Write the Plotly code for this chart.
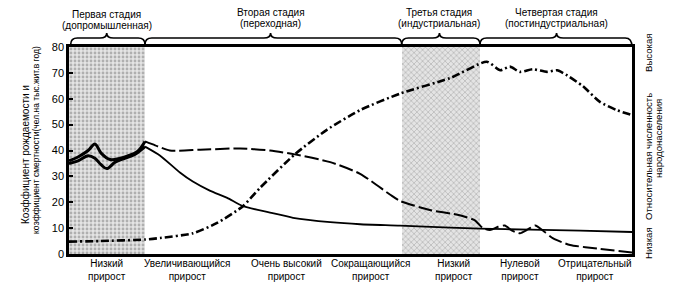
import plotly.graph_objects as go

# ---- data (x in relative time units 0..100) ----
stage_bounds = [0, 13.5, 59.1, 73.0, 100]
stage_title_1 = ["Первая стадия", "Вторая стадия", "Третья стадия", "Четвертая стадия"]
stage_title_2 = ["(допромышленная)", "(переходная)", "(индустриальная)", "(постиндустриальная)"]
stage_peaks = [6.7, 35.8, 65.8, 86.6]

growth_labels = ["Низкий<br>прирост", "Увеличивающийся<br>прирост", "Очень высокий<br>прирост",
                 "Сокращающийся<br>прирост", "Низкий<br>прирост", "Нулевой<br>прирост",
                 "Отрицательный<br>прирост"]
growth_x = [6.7, 21.0, 38.7, 53.5, 68.4, 80.1, 93.5]

y_ticks = [0, 10, 20, 30, 40, 50, 60, 70, 80]

# stage 1 (thick, fluctuating)
birth1_x = [0, 1.6, 3.4, 4.6, 5.7, 7.3, 9.1, 10.5, 12.1, 13.5]
birth1_y = [36, 37.5, 40, 42.5, 39, 36.5, 37, 38, 39.5, 43.5]
death1_x = [0, 1.6, 3.4, 4.6, 5.7, 6.7, 8.2, 9.9, 11.7, 13.5]
death1_y = [35, 36, 38, 37, 34.5, 33, 35.5, 37, 38.5, 41.5]

# birth rate (dashed)
birth_x = [13.5, 15.3, 17.9, 23.3, 30.4, 35.7, 40.1, 46.4, 51.7, 57.0, 58.8, 64.1, 69.4, 72.1,
           73.5, 74.8, 76.2, 77.4, 78.7, 80.1, 81.5, 82.8, 84.5, 86.0, 89.0, 94.3, 100]
birth_y = [43.5, 42, 40, 40.3, 40.8, 40, 38.5, 35.5, 31, 23, 20.5, 17, 15, 13,
           10, 9.3, 10.5, 11, 9, 8, 9.5, 11, 8.5, 6, 3.5, 2, 0.6]

# death rate (solid)
death_x = [13.5, 16.2, 19.7, 22.0, 25.0, 28.1, 30.9, 35.7, 39.8, 46.4, 51.7, 58.8, 67.7, 73.0,
           81.9, 90.8, 100]
death_y = [41.5, 38, 31.5, 28, 24.5, 21.7, 18.5, 16, 14, 12.3, 11.5, 11, 10.2, 9.8,
           9.4, 9.0, 8.5]

# relative population size (dash-dot)
pop_x = [0, 5.5, 13.5, 16.2, 22.0, 26.3, 30.9, 33.9, 40.1, 45.8, 51.7, 58.8, 67.7, 74.2,
         76.6, 78.3, 80.1, 82.4, 84.9, 86.7, 88.5, 91.3, 94.3, 97.3, 100]
pop_y = [4.8, 5, 5.6, 6.2, 8, 12, 18.5, 25.5, 38.5, 48, 55.6, 62, 68, 74.3,
         71, 72.4, 70.4, 71.4, 70.4, 71, 69, 64.8, 58.8, 55.6, 53.7]

FONT = "Liberation Sans, Arial, sans-serif"

fig = go.Figure()

# shaded stage regions
fig.add_trace(go.Bar(x=[(stage_bounds[0] + stage_bounds[1]) / 2], y=[80],
                     width=[stage_bounds[1] - stage_bounds[0]],
                     marker=dict(color="#e4e4e4", line=dict(width=0),
                                 pattern=dict(shape=".", fgcolor="#7a7a7a", size=4, solidity=0.4)),
                     hoverinfo="skip", showlegend=False))
fig.add_trace(go.Bar(x=[(stage_bounds[2] + stage_bounds[3]) / 2], y=[80],
                     width=[stage_bounds[3] - stage_bounds[2]],
                     marker=dict(color="#e4e4e4", line=dict(width=0),
                                 pattern=dict(shape="x", fgcolor="#8c8c8c", size=4, solidity=0.35)),
                     hoverinfo="skip", showlegend=False))

fig.add_trace(go.Scatter(x=pop_x, y=pop_y, mode="lines", line=dict(color="black", width=2.6,
                         dash="8px,3px,2px,3px", shape="spline", smoothing=0.6), showlegend=False))
fig.add_trace(go.Scatter(x=birth_x, y=birth_y, mode="lines", line=dict(color="black", width=2,
                         dash="14px,4px", shape="spline", smoothing=0.6), showlegend=False))
fig.add_trace(go.Scatter(x=death_x, y=death_y, mode="lines", line=dict(color="black", width=1.8,
                         shape="spline", smoothing=0.6), showlegend=False))
fig.add_trace(go.Scatter(x=birth1_x, y=birth1_y, mode="lines", line=dict(color="black", width=3,
                         shape="spline", smoothing=1), showlegend=False))
fig.add_trace(go.Scatter(x=death1_x, y=death1_y, mode="lines", line=dict(color="black", width=3,
                         shape="spline", smoothing=1), showlegend=False))

# brackets above the plot (paper coords; x range 0..100 == paper 0..1)
yb, yp, ye = 1.0435, 1.068, 1.012
shapes = []
for i in range(4):
    x0 = stage_bounds[i] / 100 + (0.003 if i == 0 else 0)
    x1 = stage_bounds[i + 1] / 100
    xm = stage_peaks[i] / 100
    d = 0.012
    path = (f"M {x0},{ye} Q {x0},{yb} {x0 + d},{yb} L {xm - d},{yb} "
            f"Q {xm},{yb} {xm},{yp} Q {xm},{yb} {xm + d},{yb} "
            f"L {x1 - d},{yb} Q {x1},{yb} {x1},{ye if i < 3 else 1.0}")
    shapes.append(dict(type="path", path=path, xref="paper", yref="paper",
                       line=dict(color="black", width=1.6)))


def py(px):
    return (254 - px) / 207


def px_x(px):
    return (px - 69) / 563


def note(x, y, text, size=10, angle=0, yanchor="middle"):
    return dict(x=x, y=y, xref="paper", yref="paper", text=text, textangle=angle,
                showarrow=False, xanchor="center", yanchor=yanchor,
                font=dict(family=FONT, size=size, color="black"))


annotations = []
for i in range(4):
    off = 2 if i == 0 else 0
    annotations.append(note(stage_peaks[i] / 100, py(13 + off), stage_title_1[i]))
    annotations.append(note(stage_peaks[i] / 100, py(23.5 + off), stage_title_2[i]))
for t, xp in zip(growth_labels, growth_x):
    annotations.append(note(xp / 100, -0.012, t, yanchor="top"))

# left axis title (two lines)
annotations.append(note(px_x(25), py(154), "Коэффициент рождаемости и", 10, -90))
annotations.append(note(px_x(36), py(140), "коэффициент смертности(чел.на тыс.жит.в год)", 8.5, -90))
# right side
RS = 9.6
annotations.append(note(px_x(648), py(53), "Высокая", RS, -90))
annotations.append(note(px_x(648), py(157), "Относительная численность", RS, -90))
annotations.append(note(px_x(658), py(139), "народонаселения", RS, -90))
annotations.append(note(px_x(648), py(243), "Низкая", RS, -90))

fig.update_layout(
    width=673, height=289,
    margin=dict(l=69, r=41, t=47, b=35),
    paper_bgcolor="white", plot_bgcolor="white",
    bargap=0, barmode="overlay",
    shapes=shapes, annotations=annotations,
    xaxis=dict(range=[0, 100], showgrid=False, zeroline=False, showticklabels=False, ticks="",
               showline=True, linecolor="black", linewidth=2.5, mirror=True),
    yaxis=dict(range=[0, 80], tickvals=y_ticks, showgrid=False, zeroline=False,
               ticks="inside", ticklen=4, tickcolor="black", tickwidth=1.5,
               tickfont=dict(family=FONT, size=11, color="black"),
               showline=True, linecolor="black", linewidth=2.5, mirror=True),
)

fig.write_html("out.html")
